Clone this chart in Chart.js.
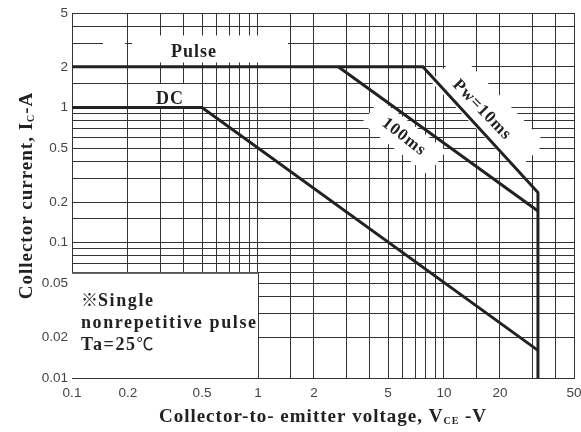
<!DOCTYPE html>
<html>
<head>
<meta charset="utf-8">
<script src="https://cdn.jsdelivr.net/npm/chart.js@4"></script>
<style>
  body { margin: 0; background: #fff; }
  #soa { display: block; }
</style>
</head>
<body>
<canvas id="soa" width="581" height="432"></canvas>
<script>
// safe operating area
const pulseV = [0.1, 7.7, 32, 32];
const pulseI = [2, 2, 0.235, 0.01];
const ms100V = [2.7, 32];
const ms100I = [2, 0.172];
const dcV = [0.1, 0.5, 32];
const dcI = [1, 1, 0.016];

const xTickLabels = [0.1, 0.2, 0.5, 1, 2, 5, 10, 20, 50];
const yTickLabels = [0.01, 0.02, 0.05, 0.1, 0.2, 0.5, 1, 2, 5];

const serif = '"Liberation Serif", "Times New Roman", serif';
const thin = '"Noto Sans CJK JP", "DejaVu Sans", sans-serif';
const ink = '#222';

const toPoints = (xs, ys) => xs.map((x, i) => ({x: x, y: ys[i]}));

const pickLabel = (list) => (value) => {
    const hit = list.find(v => Math.abs(v - value) / v < 1e-6);
    return hit === undefined ? '' : String(hit);
};

// draws a run of pieces (subscripts, thin symbols) centred on x, or from x when left is set
function drawPieces(ctx, pieces, x, y, left) {
    let total = 0;
    const fontOf = p => (p.weight || 'bold') + ' ' + p.size + 'px ' + (p.family || serif);
    pieces.forEach(p => {
        ctx.font = fontOf(p);
        ctx.letterSpacing = (p.spacing || 0) + 'px';
        p.w = ctx.measureText(p.t).width;
        total += p.w;
    });
    let cx = left ? x : x - total / 2;
    pieces.forEach(p => {
        ctx.font = fontOf(p);
        ctx.letterSpacing = (p.spacing || 0) + 'px';
        ctx.fillText(p.t, cx, y + (p.dy || 0));
        cx += p.w;
    });
}

function textAt(ctx, str, x, y, size, angle, spacing) {
    ctx.save();
    ctx.translate(x, y);
    ctx.rotate(angle * Math.PI / 180);
    ctx.font = 'bold ' + size + 'px ' + serif;
    ctx.letterSpacing = (spacing || 0) + 'px';
    ctx.textAlign = 'center';
    ctx.textBaseline = 'middle';
    ctx.fillText(str, 0, 0);
    ctx.restore();
}

function whiteBox(ctx, x, y, w, h, angle) {
    ctx.save();
    ctx.translate(x, y);
    ctx.rotate((angle || 0) * Math.PI / 180);
    ctx.fillStyle = '#fff';
    ctx.fillRect(-w / 2, -h / 2, w, h);
    ctx.restore();
}

const decorations = {
    id: 'decorations',
    beforeDatasetsDraw(chart) {
        const ctx = chart.ctx;
        const xs = chart.scales.x, ys = chart.scales.y;
        // gaps in the grid behind the labels
        whiteBox(ctx, 210, 49, 156, 27);
        whiteBox(ctx, 114, 43, 22, 6);
        whiteBox(ctx, 170, 95, 40, 22);
        whiteBox(ctx, 488, 112, 124, 40, 46);
        whiteBox(ctx, 404, 137, 84, 30, 38);
        // note box in the lower left corner
        const l = xs.getPixelForValue(0.1), r = xs.getPixelForValue(1);
        const t = ys.getPixelForValue(0.06), b = ys.getPixelForValue(0.01);
        ctx.save();
        ctx.fillStyle = '#fff';
        ctx.fillRect(l, t, r - l, b - t);
        ctx.strokeStyle = '#333';
        ctx.lineWidth = 1;
        ctx.beginPath();
        ctx.moveTo(l, t + 0.5);
        ctx.lineTo(r + 0.5, t + 0.5);
        ctx.lineTo(r + 0.5, b);
        ctx.stroke();
        ctx.restore();
    },
    afterDraw(chart) {
        const ctx = chart.ctx;
        const area = chart.chartArea;
        ctx.save();
        ctx.fillStyle = ink;
        ctx.textBaseline = 'alphabetic';
        ctx.textAlign = 'left';

        drawPieces(ctx, [{t: 'Pulse', size: 18, spacing: 1}], 194, 57);
        drawPieces(ctx, [{t: 'DC', size: 18, spacing: 1}], 170, 104);

        textAt(ctx, 'Pw=10ms', 482, 110, 17, 46, 1);
        textAt(ctx, '100ms', 404, 137, 17, 38, 1);

        // note text
        drawPieces(ctx, [
            {t: '\u203b', size: 17, weight: 'normal', family: thin},
            {t: 'Single', size: 18, spacing: 1.6}
        ], 81, 306, true);
        drawPieces(ctx, [{t: 'nonrepetitive pulse', size: 18, spacing: 1.6}], 81, 328, true);
        drawPieces(ctx, [
            {t: 'Ta=25', size: 18, spacing: 1.6},
            {t: '\u2103', size: 17, weight: 'normal', family: thin}
        ], 81, 350, true);

        // axis titles
        const midX = (area.left + area.right) / 2;
        const midY = (area.top + area.bottom) / 2;
        drawPieces(ctx, [
            {t: 'Collector-to- emitter voltage, V', size: 19, spacing: 1},
            {t: 'CE', size: 10, dy: 2, spacing: 1},
            {t: ' -V', size: 19, spacing: 1}
        ], midX, 422);

        ctx.translate(32, midY);
        ctx.rotate(-Math.PI / 2);
        drawPieces(ctx, [
            {t: 'Collector current, I', size: 19, spacing: 1},
            {t: 'C', size: 10, dy: 2, spacing: 1},
            {t: '-A', size: 19, spacing: 1}
        ], 0, 0);
        ctx.restore();
    }
};

const lineStyle = {
    borderColor: ink,
    borderWidth: 3,
    pointRadius: 0,
    fill: false,
    tension: 0
};

const tickFont = {family: '"Liberation Sans", Arial, sans-serif', size: 13.5};

new Chart(document.getElementById('soa').getContext('2d'), {
    type: 'scatter',
    data: {
        datasets: [
            Object.assign({label: 'Pw=10ms', data: toPoints(pulseV, pulseI), showLine: true}, lineStyle),
            Object.assign({label: '100ms', data: toPoints(ms100V, ms100I), showLine: true}, lineStyle),
            Object.assign({label: 'DC', data: toPoints(dcV, dcI), showLine: true}, lineStyle)
        ]
    },
    options: {
        responsive: false,
        animation: false,
        layout: {padding: {left: 0, right: 0, top: 13, bottom: 0}},
        plugins: {
            legend: {display: false},
            tooltip: {enabled: false}
        },
        scales: {
            x: {
                type: 'logarithmic',
                min: 0.1,
                max: 50,
                grid: {color: '#333', lineWidth: 1, drawTicks: false},
                border: {color: '#333', width: 1},
                ticks: {
                    autoSkip: false,
                    maxRotation: 0,
                    padding: 7,
                    color: '#444',
                    font: tickFont,
                    callback: pickLabel(xTickLabels)
                },
                afterFit: (s) => {
                    s.height = 54;
                    s.paddingLeft = 0;
                    s.paddingRight = 7;
                }
            },
            y: {
                type: 'logarithmic',
                min: 0.01,
                max: 5,
                grid: {color: '#333', lineWidth: 1, drawTicks: false},
                border: {color: '#333', width: 1},
                ticks: {
                    autoSkip: false,
                    padding: 4,
                    color: '#444',
                    font: tickFont,
                    callback: pickLabel(yTickLabels)
                },
                afterFit: (s) => {
                    s.width = 72;
                    s.paddingTop = 0;
                    s.paddingBottom = 0;
                }
            }
        }
    },
    plugins: [decorations]
});
</script>
</body>
</html>
